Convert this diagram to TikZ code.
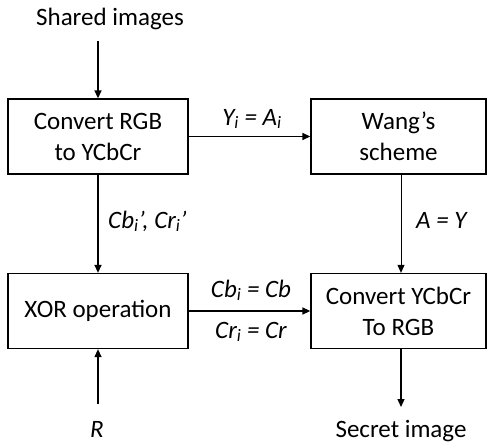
\documentclass[tikz,border=0pt]{standalone}
\usepackage{fontspec}
\setmainfont{Carlito}
\usetikzlibrary{arrows.meta}
\newcommand{\sbi}{\textsubscript{\itshape i}}
\begin{document}
\begin{tikzpicture}[x=1pt,y=-1pt,
  blk/.style={draw,line width=1.3pt,minimum width=180pt,minimum height=75pt,align=center,inner sep=0pt,font=\fontsize{25}{31}\selectfont},
  txt/.style={inner sep=0pt,anchor=base,font=\fontsize{25}{31}\selectfont},
  lbl/.style={inner sep=0pt,anchor=base,font=\fontsize{25}{31}\selectfont\itshape},
  arr/.style={line width=1.3pt,-{Triangle[length=8pt,width=7pt]}},
  thin/.style={line width=0.9pt,-{Triangle[length=8pt,width=7pt]}}]
\useasboundingbox (0,0) rectangle (487,444);
\node[blk] (conv) at (98,136.5) {Convert RGB\\to YCbCr};
\node[blk,minimum width=175pt] (wang) at (398.5,136.5) {Wang’s\\scheme};
\node[blk] (xor) at (98,311) {XOR operation};
\node[blk,minimum width=175pt] (back) at (398.5,311) {Convert YCbCr\\To RGB};
\node[txt] (shared) at (110,26) {Shared images};
\node[lbl] (R) at (97,437) {R};
\node[txt] (secret) at (401,437) {Secret image};
\coordinate (sharedb) at (98,41);
\coordinate (Rt) at (98,404);
\coordinate (secrett) at (401,407);
\coordinate (wx) at (401,0);
\draw[arr] (sharedb) -- (conv.north);
\draw[arr] (conv.east) -- (wang.west);
\node[lbl] (l1) at (252,125) {Y\sbi\ = A\sbi};
\draw[arr] (conv.south) -- (xor.north);
\node[lbl,anchor=base west] (l2) at (108,228) {Cb\sbi’, Cr\sbi’};
\draw[thin] (wang.south -| wx) -- (back.north -| wx);
\node[lbl,anchor=base west] (l3) at (416,228) {A = Y};
\draw[arr] (xor.east) -- (back.west);
\node[lbl] (l4) at (251,297) {Cb\sbi\ = Cb};
\node[lbl] (l5) at (251,338) {Cr\sbi\ = Cr};
\draw[arr] (Rt) -- (xor.south);
\draw[arr] (back.south -| secrett) -- (secrett);
\end{tikzpicture}
\end{document}
